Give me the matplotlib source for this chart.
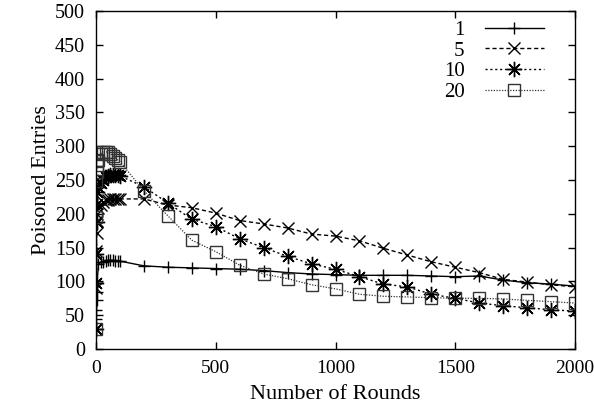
import numpy as np
import matplotlib
matplotlib.use('Agg')
import matplotlib.pyplot as plt

# number of rounds sampled
rounds = [0, 1, 2, 3, 4, 5, 10, 20, 30, 40, 50, 60, 70, 80, 90, 100,
          200, 300, 400, 500, 600, 700, 800, 900, 1000,
          1100, 1200, 1300, 1400, 1500, 1600, 1700, 1800, 1900, 2000]

# poisoned entries per configuration
s1 = [30, 45, 58, 72, 85, 98, 126, 128, 129, 130, 131, 131, 131, 130, 130, 130,
      123, 121, 120, 119, 118, 116, 113, 111, 110,
      109, 109, 109, 108, 107, 108, 102, 98, 96, 93]
s5 = [30, 90, 145, 172, 190, 200, 208, 213, 218, 220, 221, 222, 222, 222, 222, 222,
      222, 213, 209, 201, 190, 185, 179, 170, 167,
      160, 149, 139, 129, 121, 113, 103, 99, 95, 92]
s10 = [30, 98, 140, 188, 215, 232, 240, 245, 250, 254, 256, 257, 257, 257, 257, 256,
       240, 216, 192, 181, 163, 150, 137, 126, 118,
       107, 96, 92, 81, 75, 68, 64, 61, 58, 56]
s20 = [30, 195, 248, 262, 272, 278, 280, 288, 291, 292, 291, 289, 286, 283, 280, 277,
       234, 197, 161, 144, 124, 111, 104, 95, 89,
       81, 78, 77, 76, 75, 75, 74, 72, 70, 68]

labels = ['1', '5', '10', '20']

plt.rcParams['font.family'] = ['Liberation Serif', 'DejaVu Serif']
plt.rcParams['font.size'] = 15

fig = plt.figure(figsize=(5.94, 4.16), dpi=100)
ax = fig.add_axes([96 / 594, 1 - 349 / 416, (575 - 96) / 594, (349 - 11) / 416])

ax.plot(rounds, s1, color='black', linewidth=1.0, linestyle='-',
        marker='+', markersize=9, markeredgewidth=1.0, label=labels[0])
ax.plot(rounds, s5, color='black', linewidth=1.0, linestyle=(0, (3, 2)),
        marker='x', markersize=8, markeredgewidth=1.0, label=labels[1])
ax.plot(rounds, s10, color='black', linewidth=1.0, linestyle=(0, (1.5, 2)),
        marker=(8, 2, 0), markersize=11, markeredgewidth=1.0, label=labels[2])
ax.plot(rounds, s20, color='#333333', linewidth=0.9, linestyle=(0, (1, 1.2)),
        marker='s', markersize=8, markerfacecolor='none', markeredgecolor='#333333',
        markeredgewidth=1.0, label=labels[3])

ax.set_xlim(0, 2000)
ax.set_ylim(0, 500)
ax.set_xticks(np.arange(0, 2001, 500))
ax.set_yticks(np.arange(0, 501, 50))
ax.tick_params(direction='in', length=5, width=1, top=True, right=True, pad=8,
               labelsize=14.5)
ax.tick_params(axis='x', labelsize=14)
for sp in ax.spines.values():
    sp.set_linewidth(1.0)

ax.set_xlabel('Number of Rounds', fontsize=16, labelpad=6)
ax.set_ylabel('Poisoned Entries', fontsize=16, labelpad=3)

ax.legend(loc='upper right', bbox_to_anchor=(0.965, 1.015), frameon=False,
          markerfirst=False, handlelength=2.8, handletextpad=1.0,
          labelspacing=0.05, borderpad=0.2)

fig.savefig('out.png', dpi=100)
